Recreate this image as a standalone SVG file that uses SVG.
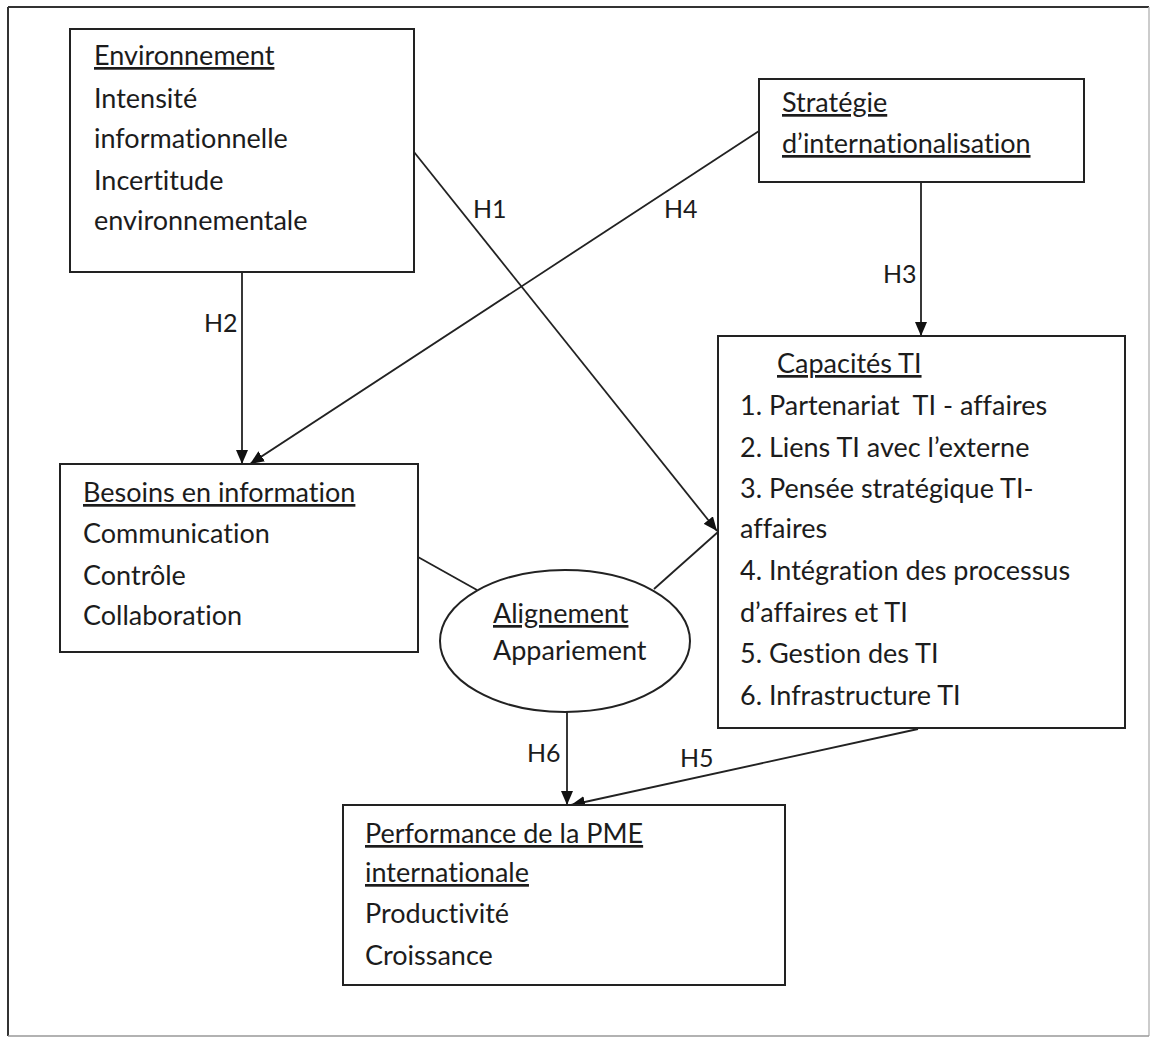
<svg xmlns="http://www.w3.org/2000/svg" width="1151" height="1038" viewBox="0 0 1151 1038">
  <style>
    .box { fill: #ffffff; stroke: #222222; stroke-width: 2; }
    .t { font-family: Lato, "Liberation Sans", "DejaVu Sans", sans-serif; font-size: 27px; fill: #1c1c1c; font-variant-ligatures: none; }
    .u { text-decoration: underline; }
    .lbl { font-family: Lato, "Liberation Sans", "DejaVu Sans", sans-serif; font-size: 25px; fill: #1c1c1c; }
    .edge { fill: none; stroke: #222222; stroke-width: 1.8; }
  </style>
  <defs>
    <marker id="arrow" viewBox="0 0 14 12" refX="14" refY="6" markerWidth="14" markerHeight="12" markerUnits="userSpaceOnUse" orient="auto">
      <path d="M0,0 L14,6 L0,12 Z" fill="#111111"/>
    </marker>
  </defs>

  <rect width="1151" height="1038" fill="#ffffff"/>

  <!-- outer frame -->
  <g id="frame">
    <line x1="8" y1="7" x2="1149" y2="7" stroke="#333333" stroke-width="2"/>
    <line x1="8" y1="7" x2="8" y2="1036" stroke="#333333" stroke-width="2"/>
    <line x1="1149" y1="7" x2="1149" y2="1036" stroke="#bbbbbb" stroke-width="1.5"/>
    <line x1="8" y1="1036" x2="1149" y2="1036" stroke="#999999" stroke-width="1.5"/>
  </g>

  <!-- connectors -->
  <g id="connectors">
    <!-- H1: environnement -> capacités -->
    <line class="edge" x1="414" y1="152" x2="717" y2="531" marker-end="url(#arrow)"/>
    <text class="lbl" x="473" y="218">H1</text>
    <!-- H2: environnement -> besoins -->
    <line class="edge" x1="242" y1="272" x2="242" y2="464" marker-end="url(#arrow)"/>
    <text class="lbl" x="204" y="332">H2</text>
    <!-- H3: stratégie -> capacités -->
    <line class="edge" x1="921" y1="182" x2="921" y2="336" marker-end="url(#arrow)"/>
    <text class="lbl" x="883" y="283">H3</text>
    <!-- H4: stratégie -> besoins -->
    <line class="edge" x1="759" y1="131" x2="250" y2="464" marker-end="url(#arrow)"/>
    <text class="lbl" x="664" y="218">H4</text>
    <!-- alignment links -->
    <line class="edge" x1="418" y1="557" x2="477" y2="590"/>
    <line class="edge" x1="654" y1="589" x2="718" y2="532"/>
    <!-- H6: alignement -> performance -->
    <line class="edge" x1="567" y1="712" x2="567" y2="805" marker-end="url(#arrow)"/>
    <text class="lbl" x="527" y="762">H6</text>
    <!-- H5: capacités -> performance -->
    <line class="edge" x1="918" y1="729" x2="571" y2="805" marker-end="url(#arrow)"/>
    <text class="lbl" x="680" y="767">H5</text>
  </g>

  <g id="environnement">
    <rect class="box" x="70" y="29" width="344" height="243"/>
    <text class="t u" x="94" y="65">Environnement</text>
    <text class="t" x="94" y="108">Intensité</text>
    <text class="t" x="94" y="148">informationnelle</text>
    <text class="t" x="94" y="190">Incertitude</text>
    <text class="t" x="94" y="230">environnementale</text>
  </g>

  <g id="strategie">
    <rect class="box" x="759" y="79" width="325" height="103"/>
    <text class="t u" x="782" y="112">Stratégie</text>
    <text class="t u" x="782" y="153">d’internationalisation</text>
  </g>

  <g id="besoins">
    <rect class="box" x="60" y="464" width="358" height="188"/>
    <text class="t u" x="83" y="502">Besoins en information</text>
    <text class="t" x="83" y="543">Communication</text>
    <text class="t" x="83" y="585">Contrôle</text>
    <text class="t" x="83" y="625">Collaboration</text>
  </g>

  <g id="capacites">
    <rect class="box" x="718" y="336" width="407" height="392"/>
    <text class="t u" x="777" y="373">Capacités TI</text>
    <text class="t" x="740" y="415">1. Partenariat&#160; TI - affaires</text>
    <text class="t" x="740" y="457">2. Liens TI avec l’externe</text>
    <text class="t" x="740" y="498">3. Pensée stratégique TI-</text>
    <text class="t" x="740" y="538">affaires</text>
    <text class="t" x="740" y="580">4. Intégration des processus</text>
    <text class="t" x="740" y="622">d’affaires et TI</text>
    <text class="t" x="740" y="663">5. Gestion des TI</text>
    <text class="t" x="740" y="705">6. Infrastructure TI</text>
  </g>

  <g id="alignement">
    <ellipse class="box" cx="565" cy="641" rx="125" ry="71"/>
    <text class="t u" x="493" y="623">Alignement</text>
    <text class="t" x="493" y="660">Appariement</text>
  </g>

  <g id="performance">
    <rect class="box" x="343" y="805" width="442" height="180"/>
    <text class="t u" x="365" y="843">Performance de la PME</text>
    <text class="t u" x="365" y="882">internationale</text>
    <text class="t" x="365" y="923">Productivité</text>
    <text class="t" x="365" y="965">Croissance</text>
  </g>
</svg>
